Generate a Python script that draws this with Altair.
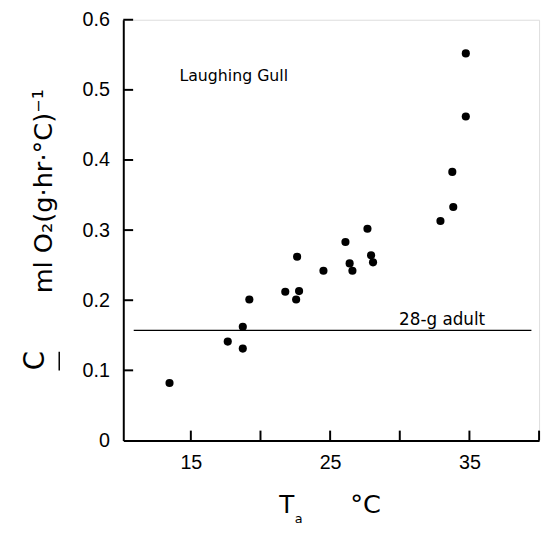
import altair as alt
import pandas as pd

# data
temp_c = [13.47, 17.65, 18.73, 18.73, 19.2, 21.78, 22.56, 22.77, 22.63, 24.52,
          26.1, 26.4, 26.6, 27.68, 27.94, 28.08, 32.92, 33.84, 33.77, 34.74, 34.74]
conductance = [0.082, 0.141, 0.131, 0.162, 0.201, 0.212, 0.201, 0.213, 0.262, 0.242,
               0.283, 0.2525, 0.242, 0.302, 0.264, 0.254, 0.313, 0.333, 0.383, 0.462, 0.552]

adult_level = 0.157
adult_x_start = 10.9
adult_x_end = 39.45

x_ticks = [15, 20, 25, 30, 35, 40]
x_labels = [15, 25, 35]
y_ticks = [0.1, 0.2, 0.3, 0.4, 0.5, 0.6]
y_labels = [0, 0.1, 0.2, 0.3, 0.4, 0.5, 0.6]

W, H = 422, 427
X0, X1 = 10.15, 40.0
Y0, Y1 = 0.0, 0.6
TICK_PX = 10
FONT = "DejaVu Sans"

pts = pd.DataFrame({"T": temp_c, "C": conductance})

xs = alt.Scale(domain=[X0, X1], nice=False, zero=False)
ys = alt.Scale(domain=[Y0, Y1], nice=False)

axis_x = alt.Axis(values=x_labels, ticks=False, grid=False, domainColor="black",
                  domainWidth=2, labelFont="Liberation Sans", labelFontSize=20,
                  labelColor="black", labelPadding=12, title=None)
axis_y = alt.Axis(values=y_labels, ticks=False, grid=False, domainColor="black",
                  domainWidth=2, labelFont="Liberation Sans", labelFontSize=20,
                  labelColor="black", labelPadding=14, title=None,
                  labelExpr="datum.value == 0 ? '0' : format(datum.value, '.1f')")

points = alt.Chart(pts).mark_circle(size=68, color="black", opacity=1).encode(
    x=alt.X("T:Q", scale=xs, axis=axis_x),
    y=alt.Y("C:Q", scale=ys, axis=axis_y),
)

rule_df = pd.DataFrame({"x1": [adult_x_start], "x2": [adult_x_end], "y": [adult_level]})
adult_rule = alt.Chart(rule_df).mark_rule(color="black", strokeWidth=1.3).encode(
    x=alt.X("x1:Q", scale=xs), x2="x2:Q", y=alt.Y("y:Q", scale=ys))

# inward ticks
xtick_df = pd.DataFrame({"v": x_ticks, "a": [Y0] * len(x_ticks),
                         "b": [Y0 + TICK_PX * (Y1 - Y0) / H] * len(x_ticks)})
ytick_df = pd.DataFrame({"w": y_ticks, "a": [X0] * len(y_ticks),
                         "b": [X0 + TICK_PX * (X1 - X0) / W] * len(y_ticks)})
xt = alt.Chart(xtick_df).mark_rule(color="black", strokeWidth=2).encode(
    x=alt.X("v:Q", scale=xs), y=alt.Y("a:Q", scale=ys), y2="b:Q")
yt = alt.Chart(ytick_df).mark_rule(color="black", strokeWidth=2).encode(
    y=alt.Y("w:Q", scale=ys), x=alt.X("a:Q", scale=xs), x2="b:Q")

gull_df = pd.DataFrame({"x": [14.18], "y": [0.513], "t": ["Laughing  Gull"]})
adult_df = pd.DataFrame({"x": [29.95], "y": [0.164], "t": ["28-g  adult"]})
lab_gull = alt.Chart(gull_df).mark_text(
    font=FONT, fontSize=16, align="left", baseline="alphabetic", color="black").encode(
    x=alt.X("x:Q", scale=xs), y=alt.Y("y:Q", scale=ys), text="t:N")
lab_adult = alt.Chart(adult_df).mark_text(
    font=FONT, fontSize=17, align="left", baseline="alphabetic", color="black").encode(
    x=alt.X("x:Q", scale=xs), y=alt.Y("y:Q", scale=ys), text="t:N")


def txt(s, px, py, size, angle=0, align="center"):
    kw = dict(font=FONT, fontSize=size, align=align, baseline="alphabetic", color="black")
    if angle:
        kw["angle"] = angle
    return alt.Chart(pd.DataFrame({"t": [s]})).mark_text(**kw).encode(
        text="t:N", x=alt.value(px), y=alt.value(py))


ytitle = txt("ml O\u2082(g\u00b7hr\u00b7\u00b0C)\u207b\u00b9", -72, 174, 26, angle=270)
ctitle = txt("C", -80, 346, 28, angle=270)
cbar = alt.Chart(pd.DataFrame({"t": [1]})).mark_rule(color="black", strokeWidth=1.5).encode(
    x=alt.value(-65), y=alt.value(337), y2=alt.value(356))
t_title = txt("T", 166, 501, 25)
a_title = txt("a", 178, 511, 13)
deg_title = txt("\u00b0C", 246, 501, 26)

chart = alt.layer(points, adult_rule, xt, yt, lab_gull, lab_adult,
                  ytitle, ctitle, cbar, t_title, a_title, deg_title).properties(
    width=W, height=H,
    autosize=alt.AutoSizeParams(type="none"),
    padding={"left": 117, "top": 8, "right": 5, "bottom": 90},
).configure_view(stroke=None).configure(background="white")

chart.save("out.html", embed_options={"renderer": "svg", "actions": False})
